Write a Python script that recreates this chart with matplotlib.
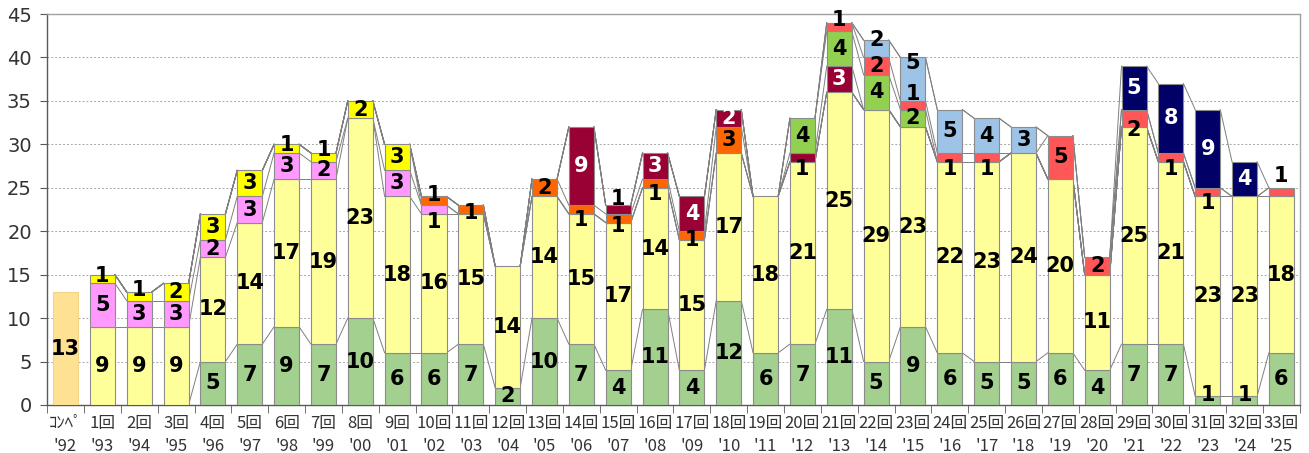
import matplotlib
matplotlib.use("Agg")
import matplotlib.pyplot as plt
import numpy as np

years = ["92", "93", "94", "95", "96", "97", "98", "99", "00", "01", "02",
         "03", "04", "05", "06", "07", "08", "09", "10", "11", "12", "13",
         "14", "15", "16", "17", "18", "19", "20", "21", "22", "23", "24", "25"]
rounds = ["ｺﾝﾍﾟ"] + [f"{i}回" for i in range(1, 34)]

compe = [13] + [0] * 33
green = [0, 0, 0, 0, 5, 7, 9, 7, 10, 6, 6, 7, 2, 10, 7, 4, 11, 4, 12, 6, 7, 11,
         5, 9, 6, 5, 5, 6, 4, 7, 7, 1, 1, 6]
lyellow = [0, 9, 9, 9, 12, 14, 17, 19, 23, 18, 16, 15, 14, 14, 15, 17, 14, 15, 17,
           18, 21, 25, 29, 23, 22, 23, 24, 20, 11, 25, 21, 23, 23, 18]
pink = [0, 5, 3, 3, 2, 3, 3, 2, 0, 3, 1, 0, 0, 0, 0, 0, 0, 0, 0, 0, 0, 0,
        0, 0, 0, 0, 0, 0, 0, 0, 0, 0, 0, 0]
yellow = [0, 1, 1, 2, 3, 3, 1, 1, 2, 3, 0, 0, 0, 0, 0, 0, 0, 0, 0, 0, 0, 0,
          0, 0, 0, 0, 0, 0, 0, 0, 0, 0, 0, 0]
orange = [0, 0, 0, 0, 0, 0, 0, 0, 0, 0, 1, 1, 0, 2, 1, 1, 1, 1, 3, 0, 0, 0,
          0, 0, 0, 0, 0, 0, 0, 0, 0, 0, 0, 0]
maroon = [0, 0, 0, 0, 0, 0, 0, 0, 0, 0, 0, 0, 0, 0, 9, 1, 3, 4, 2, 0, 1, 3,
          0, 0, 0, 0, 0, 0, 0, 0, 0, 0, 0, 0]
lgreen = [0, 0, 0, 0, 0, 0, 0, 0, 0, 0, 0, 0, 0, 0, 0, 0, 0, 0, 0, 0, 4, 4,
          4, 2, 0, 0, 0, 0, 0, 0, 0, 0, 0, 0]
red = [0, 0, 0, 0, 0, 0, 0, 0, 0, 0, 0, 0, 0, 0, 0, 0, 0, 0, 0, 0, 0, 1,
       2, 1, 1, 1, 0, 5, 2, 2, 1, 1, 0, 1]
lblue = [0, 0, 0, 0, 0, 0, 0, 0, 0, 0, 0, 0, 0, 0, 0, 0, 0, 0, 0, 0, 0, 0,
         2, 5, 5, 4, 3, 0, 0, 0, 0, 0, 0, 0]
navy = [0, 0, 0, 0, 0, 0, 0, 0, 0, 0, 0, 0, 0, 0, 0, 0, 0, 0, 0, 0, 0, 0,
        0, 0, 0, 0, 0, 0, 0, 5, 8, 9, 4, 0]

# stacking order, bottom to top
series = [
    ("green", green, "#A3CF8F", "black"),
    ("lyellow", lyellow, "#FFFF99", "black"),
    ("pink", pink, "#FF99FF", "black"),
    ("yellow", yellow, "#FFFF00", "black"),
    ("orange", orange, "#FF6600", "black"),
    ("maroon", maroon, "#990033", "white"),
    ("lgreen", lgreen, "#92D050", "black"),
    ("red", red, "#FF5757", "black"),
    ("lblue", lblue, "#9DC3E6", "black"),
    ("navy", navy, "#000066", "white"),
]

# label nudges (data units) where the labels sit off-centre in the original
label_shift = {
    ("yellow", 1): 0.4, ("yellow", 2): 0.7, ("yellow", 6): 0.4, ("yellow", 7): 0.8,
    ("pink", 10): -1.4, ("orange", 10): 0.7, ("orange", 11): -0.35,
    ("orange", 14): -1.2, ("orange", 15): -0.9, ("maroon", 15): 1.2,
    ("orange", 16): -1.2, ("orange", 17): -0.5, ("maroon", 20): -1.3,
    ("red", 21): 0.8, ("lblue", 22): 1.0, ("red", 23): 1.3, ("lblue", 23): 1.9,
    ("red", 24): -1.3, ("red", 25): -1.3, ("red", 29): -1.4, ("red", 30): -1.3,
    ("red", 31): -1.3, ("green", 31): 0.65, ("green", 32): 0.65, ("red", 33): 1.9,
}

fig = plt.figure(figsize=(13.09, 4.53), dpi=100)
ax = fig.add_axes([0.036, 0.106, 0.957, 0.863])

x = np.arange(len(years))
w = 0.68
edge = "#8C8C8C"
lab_font = dict(fontsize=15, fontweight="bold", ha="center", va="center",
                family="DejaVu Sans")

ax.bar(x, compe, w, color="#FFE194", edgecolor="#F2D48A", linewidth=0.8, zorder=3)
for xi, v in zip(x, compe):
    if v:
        ax.text(xi, v / 2, str(v), color="black", zorder=5, **lab_font)

bottom = np.zeros(len(x))
tops = []
for name, vals, col, tcol in series:
    vals = np.array(vals, dtype=float)
    mask = vals > 0
    ax.bar(x[mask], vals[mask], w, bottom=bottom[mask], color=col,
           edgecolor=edge, linewidth=0.8, zorder=3)
    for i in np.where(mask)[0]:
        shift = label_shift.get((name, i), 0)
        y = bottom[i] + vals[i] / 2 + shift
        c = "black" if abs(shift) >= 0.9 else tcol
        ax.text(x[i], y, str(int(vals[i])), color=c, zorder=5, **lab_font)
    bottom = bottom + vals
    tops.append(bottom.copy())

# series lines between neighbouring bars (not from the compe bar)
for top in tops:
    for i in range(1, len(x) - 1):
        ax.plot([x[i] + w / 2, x[i + 1] - w / 2], [top[i], top[i + 1]],
                color="#7F7F7F", linewidth=0.7, zorder=2)

ax.set_xlim(-0.5, len(x) - 0.5)
ax.set_ylim(0, 45)
ax.set_yticks(np.arange(0, 46, 5))
ax.yaxis.grid(True, linestyle=(0, (2, 2)), color="#A6A6A6", linewidth=0.7)
ax.set_axisbelow(True)

ax.set_xticks(x)
ax.set_xticklabels([f"{r}\n'{y}" for r, y in zip(rounds, years)],
                   family=["Noto Sans CJK JP", "DejaVu Sans"], fontsize=12,
                   color="#333333", linespacing=1.5)
ax.set_xticks(np.arange(-0.5, len(x), 1), minor=True)
ax.tick_params(axis="x", which="major", length=0, pad=7)
ax.tick_params(axis="x", which="minor", length=6, color="#595959")
ax.tick_params(axis="y", length=5, color="#595959", labelsize=14, pad=6,
               labelcolor="#333333")
for t in ax.get_yticklabels():
    t.set_family("DejaVu Sans")

for s in ["left", "bottom"]:
    ax.spines[s].set_color("#595959")
    ax.spines[s].set_linewidth(1.0)
for s in ["top", "right"]:
    ax.spines[s].set_color("#A0A0A0")
    ax.spines[s].set_linewidth(1.0)

fig.savefig("out.png", dpi=100)
